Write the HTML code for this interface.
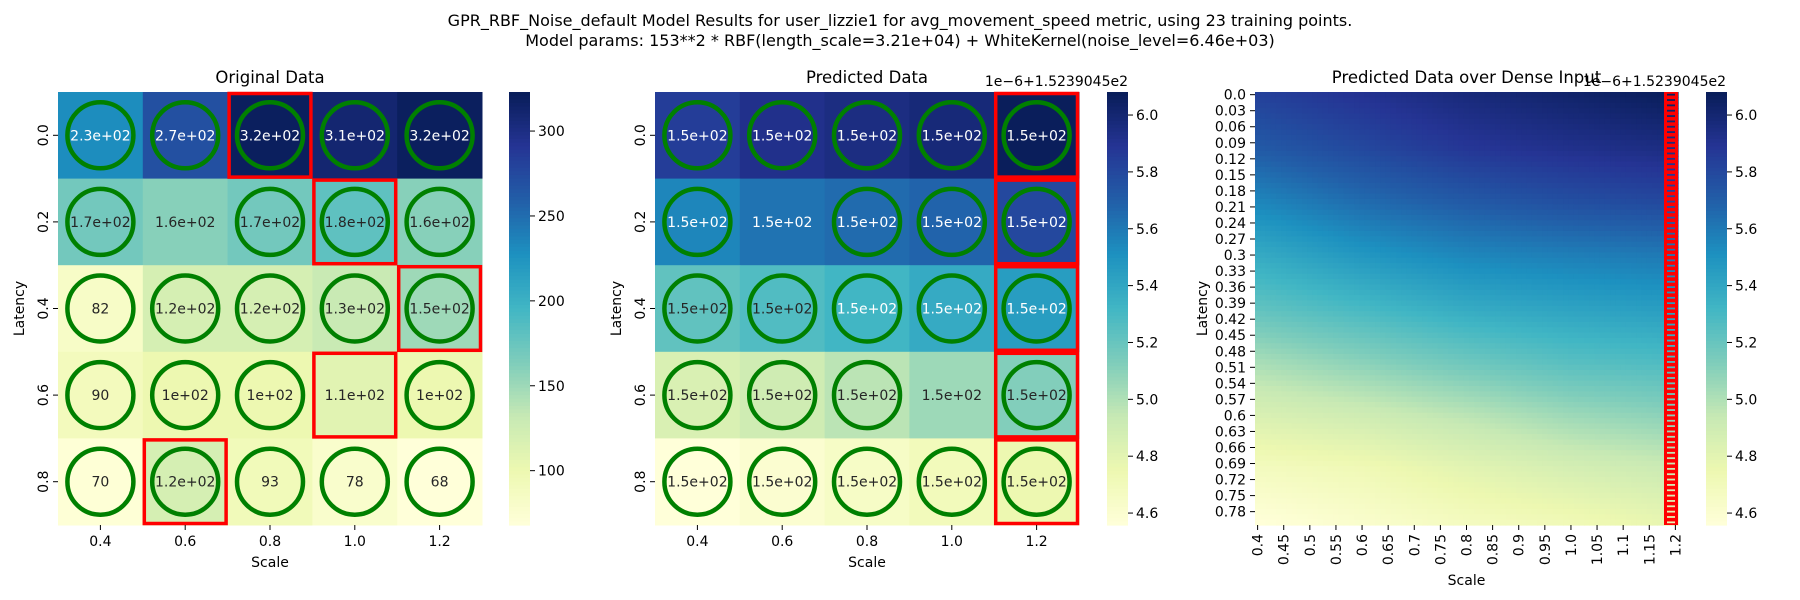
<!DOCTYPE html>
<html><head><meta charset="utf-8"><style>
html,body{margin:0;padding:0;background:#fff;}
svg{display:block;font-family:"DejaVu Sans","Liberation Sans",sans-serif;}
</style></head><body>
<svg id="fig" width="1800" height="600" viewBox="0 0 1800 600" xmlns="http://www.w3.org/2000/svg">
<text x="900" y="26" font-size="16" text-anchor="middle">GPR_RBF_Noise_default Model Results for user_lizzie1 for avg_movement_speed metric, using 23 training points.</text>
<text x="900" y="46" font-size="16" text-anchor="middle">Model params: 153**2 * RBF(length_scale=3.21e+04) + WhiteKernel(noise_level=6.46e+03)</text>
</svg>
<script>
const scaleCats=["0.4","0.6","0.8","1.0","1.2"];
const latencyCats=["0.0","0.2","0.4","0.6","0.8"];
const origValues=[[230,270,320,310,320],[170,160,170,180,160],[82,120,120,130,150],[90,100,100,110,100],[70,120,93,78,68]];
const origLabels=[["2.3e+02","2.7e+02","3.2e+02","3.1e+02","3.2e+02"],["1.7e+02","1.6e+02","1.7e+02","1.8e+02","1.6e+02"],["82","1.2e+02","1.2e+02","1.3e+02","1.5e+02"],["90","1e+02","1e+02","1.1e+02","1e+02"],["70","1.2e+02","93","78","68"]];
const origCircles=[[1,1,1,1,1],[1,0,1,1,1],[1,1,1,1,1],[1,1,1,0,1],[1,1,1,1,1]];
const origBoxes=[[0,2],[1,3],[2,4],[3,3],[4,1]];
const origTicks=[100,150,200,250,300];
const predValues=[[5.85,5.92,5.95,5.98,6.07],[5.55,5.62,5.65,5.68,5.80],[5.22,5.27,5.32,5.38,5.45],[4.85,4.90,4.97,5.05,5.12],[4.56,4.60,4.65,4.70,4.75]];
const predLabels=[["1.5e+02","1.5e+02","1.5e+02","1.5e+02","1.5e+02"],["1.5e+02","1.5e+02","1.5e+02","1.5e+02","1.5e+02"],["1.5e+02","1.5e+02","1.5e+02","1.5e+02","1.5e+02"],["1.5e+02","1.5e+02","1.5e+02","1.5e+02","1.5e+02"],["1.5e+02","1.5e+02","1.5e+02","1.5e+02","1.5e+02"]];
const predCircles=[[1,1,1,1,1],[1,0,1,1,1],[1,1,1,1,1],[1,1,1,0,1],[1,1,1,1,1]];
const predBoxes=[[0,4],[1,4],[2,4],[3,4],[4,4]];
const predTicks=[4.6,4.8,5.0,5.2,5.4,5.6,5.8,6.0];
const denseCoarse=[[5.83,5.90,5.97,6.02,6.07],[5.72,5.80,5.88,5.92,5.95],[5.55,5.65,5.72,5.77,5.80],[5.38,5.48,5.55,5.58,5.60],[5.22,5.30,5.38,5.42,5.45],[5.02,5.10,5.18,5.25,5.28],[4.85,4.90,4.97,5.05,5.10],[4.68,4.72,4.80,4.87,4.92],[4.56,4.62,4.68,4.72,4.78]];
const denseXTicks=["0.4","0.45","0.5","0.55","0.6","0.65","0.7","0.75","0.8","0.85","0.9","0.95","1.0","1.05","1.1","1.15","1.2"];
const denseYTicks=["0.0","0.03","0.06","0.09","0.12","0.15","0.18","0.21","0.24","0.27","0.3","0.33","0.36","0.39","0.42","0.45","0.48","0.51","0.54","0.57","0.6","0.63","0.66","0.69","0.72","0.75","0.78"];

const NS="http://www.w3.org/2000/svg";
const svg=document.getElementById('fig');
const stops=["#ffffd9","#edf8b1","#c7e9b4","#7fcdbb","#41b6c4","#1d91c0","#225ea8","#253494","#081d58"].map(h=>[parseInt(h.slice(1,3),16),parseInt(h.slice(3,5),16),parseInt(h.slice(5,7),16)]);
function cmap(t){t=Math.max(0,Math.min(1,t));const p=t*8,i=Math.min(7,Math.floor(p)),f=p-i;const c=stops[i].map((v,k)=>Math.round(v+(stops[i+1][k]-v)*f));return c;}
function rgb(c){return `rgb(${c[0]},${c[1]},${c[2]})`;}
function lum(c){const l=c.map(v=>{v/=255;return v<=0.03928?v/12.92:Math.pow((v+0.055)/1.055,2.4);});return 0.2126*l[0]+0.7152*l[1]+0.0722*l[2];}
function mk(tag,attrs,parent){const e=document.createElementNS(NS,tag);for(const k in attrs)e.setAttribute(k,attrs[k]);(parent||svg).appendChild(e);return e;}
function txt(s,attrs,parent){const e=mk('text',attrs,parent);e.textContent=s;return e;}

const TOP=92,BOT=525;
function colorbar(x,w,vmin,vmax,ticks,name,dec){
  const g=mk('g',{});
  
  
  const n=120,h=(BOT-TOP)/n;
  for(let i=0;i<n;i++){const v=vmax-(i+0.5)/n*(vmax-vmin);mk('rect',{x:x,y:TOP+i*h,width:w,height:h+0.6,fill:rgb(cmap((v-vmin)/(vmax-vmin)))},g);}
  const yS=v=>BOT-(v-vmin)/(vmax-vmin)*(BOT-TOP);
  ticks.forEach(t=>{const y=yS(t);mk('line',{x1:x+w,x2:x+w+5,y1:y,y2:y,stroke:'#000','stroke-width':1},g);
    const tl=txt(t.toFixed(dec),{x:x+w+8,y:y+5,'font-size':14},g);
    
    });
}
function heat(x0,x1,title,vals,labels,circles,boxes,vmin,vmax,ticks,cbx,name,dec){
  const g=mk('g',{});
  
  
  const nc=scaleCats.length,nr=latencyCats.length,cw=(x1-x0)/nc,ch=(BOT-TOP)/nr;
  const xS=j=>x0+j*cw,yS=i=>TOP+i*ch;
  vals.forEach((row,i)=>row.forEach((v,j)=>{
    const c=cmap((v-vmin)/(vmax-vmin));
    const r=mk('rect',{x:xS(j),y:yS(i),width:cw+0.5,height:ch+0.5,fill:rgb(c)},g);
    
    
    const t=txt(labels[i][j],{x:xS(j)+cw/2,y:yS(i)+ch/2+5,'font-size':14,'text-anchor':'middle',fill:lum(c)<0.408?'#fff':'#262626'},g);
    
    
  }));
  circles.forEach((row,i)=>row.forEach((m,j)=>{if(!m)return;
    const c=mk('circle',{cx:xS(j)+cw/2,cy:yS(i)+ch/2,r:33,fill:'none',stroke:'#008000','stroke-width':4.5},g);
    
    }));
  boxes.forEach(b=>{const r=mk('rect',{x:xS(b[1])+1.5,y:yS(b[0])+1.5,width:cw-3,height:ch-3,fill:'none',stroke:'#ff0000','stroke-width':3.5},g);
    
    });
  scaleCats.forEach((s,j)=>{const x=xS(j)+cw/2;mk('line',{x1:x,x2:x,y1:BOT,y2:BOT+5,stroke:'#000'},g);
    const t=txt(s,{x:x,y:BOT+21,'font-size':14,'text-anchor':'middle'},g);
    
    });
  latencyCats.forEach((s,i)=>{const y=yS(i)+ch/2;mk('line',{x1:x0-5,x2:x0,y1:y,y2:y,stroke:'#000'},g);
    const t=txt(s,{x:0,y:0,'font-size':14,'text-anchor':'middle',transform:`translate(${x0-10},${y}) rotate(-90)`},g);
    
    });
  const tt=txt(title,{x:(x0+x1)/2,y:83,'font-size':16.5,'text-anchor':'middle'},g);
  
  
  const xl=txt('Scale',{x:(x0+x1)/2,y:567,'font-size':14,'text-anchor':'middle'},g);
  
  
  const yl=txt('Latency',{x:0,y:0,'font-size':14,'text-anchor':'middle',transform:`translate(${x0-34},${(TOP+BOT)/2}) rotate(-90)`},g);
  
  
  colorbar(cbx,21,vmin,vmax,ticks,name+'-colorbar',dec);
}
heat(58,482,'Original Data',origValues,origLabels,origCircles,origBoxes,68,323,origTicks,509,'original-heatmap',0);
heat(655,1079,'Predicted Data',predValues,predLabels,predCircles,predBoxes,4.558,6.081,predTicks,1107,'predicted-heatmap',1);
const off1=txt('1e\u22126+1.5239045e2',{x:1128,y:86,'font-size':14,'text-anchor':'end'});



// dense heatmap
(function(){
  const x0=1255,x1=1678,N=81,vmin=4.558,vmax=6.081;
  const g=mk('g',{});
  
  
  const cw=(x1-x0)/N,ch=(BOT-TOP)/N;
  const R=denseCoarse.length-1,C=denseCoarse[0].length-1;
  function sample(i,j){const fy=i/(N-1)*R,fx=j/(N-1)*C;const r0=Math.min(R-1,Math.floor(fy)),c0=Math.min(C-1,Math.floor(fx));const a=fy-r0,b=fx-c0;
    return denseCoarse[r0][c0]*(1-a)*(1-b)+denseCoarse[r0][c0+1]*(1-a)*b+denseCoarse[r0+1][c0]*a*(1-b)+denseCoarse[r0+1][c0+1]*a*b;}
  for(let i=0;i<N;i++)for(let j=0;j<N;j++){
    mk('rect',{x:x0+j*cw,y:TOP+i*ch,width:cw+0.6,height:ch+0.6,fill:rgb(cmap((sample(i,j)-vmin)/(vmax-vmin)))},g);}
  const rx=x1-14;
  const rb=mk('rect',{x:rx,y:TOP,width:14,height:BOT-TOP,fill:'#ff0000'},g);
  
  
  for(let i=0;i<N;i++){mk('rect',{x:rx+3,y:TOP+i*ch+ch/2-0.9,width:8,height:1.8,fill:rgb(cmap((sample(i,N-1)-vmin)/(vmax-vmin)))},g);}
  denseYTicks.forEach((s,k)=>{const y=TOP+(k*3+0.5)*ch;mk('line',{x1:x0-5,x2:x0,y1:y,y2:y,stroke:'#000'},g);
    const t=txt(s,{x:x0-9,y:y+5,'font-size':14,'text-anchor':'end'},g);
    
    });
  denseXTicks.forEach((s,k)=>{const x=x0+(k*5+0.5)*cw;mk('line',{x1:x,x2:x,y1:BOT,y2:BOT+5,stroke:'#000'},g);
    const t=txt(s,{x:0,y:0,'font-size':14,'text-anchor':'end',transform:`translate(${x+5},${BOT+9}) rotate(-90)`},g);
    
    });
  const tt=txt('Predicted Data over Dense Input',{x:(x0+x1)/2,y:83,'font-size':16.5,'text-anchor':'middle'},g);
  
  
  const xl=txt('Scale',{x:(x0+x1)/2,y:585,'font-size':14,'text-anchor':'middle'},g);
  
  
  const yl=txt('Latency',{x:0,y:0,'font-size':14,'text-anchor':'middle',transform:`translate(1207,${(TOP+BOT)/2}) rotate(-90)`},g);
  
  
  colorbar(1706,21,vmin,vmax,predTicks,'dense-heatmap-colorbar',1);
  const off=txt('1e\u22126+1.5239045e2',{x:1726,y:86,'font-size':14,'text-anchor':'end'});
  
  
})();
</script>
</body></html>
